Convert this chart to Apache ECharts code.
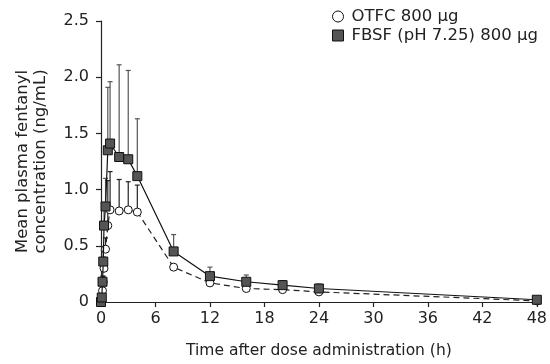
<!DOCTYPE html>
<html>
<head>
<meta charset="utf-8">
<script src="https://cdn.jsdelivr.net/npm/echarts@6/dist/echarts.min.js"></script>
<style>
  html, body { margin: 0; padding: 0; background: #fff; }
  #chart { width: 550px; height: 364px; }
</style>
</head>
<body>
<div id="chart"></div>
<script>
// sampling times (h)
const times = [0, 0.083, 0.167, 0.25, 0.333, 0.5, 0.75, 1, 2, 3, 4, 8, 12, 16, 20, 24, 48];

// OTFC 800 µg: mean and SD (ng/mL)
const otfcMean = [0, 0.02, 0.10, 0.18, 0.30, 0.47, 0.68, 0.82, 0.81, 0.82, 0.80, 0.31, 0.17, 0.12, 0.11, 0.09, 0.01];
const otfcSd   = [0, 0.01, 0.03, 0.05, 0.08, 0.10, 0.40, 0.34, 0.28, 0.25, 0.24, 0.00, 0.03, 0.02, 0.02, 0.02, 0.00];

// FBSF (pH 7.25) 800 µg: mean and SD (ng/mL)
const fbsfMean = [0, 0.04, 0.18, 0.36, 0.68, 0.85, 1.35, 1.41, 1.29, 1.27, 1.12, 0.45, 0.23, 0.18, 0.15, 0.12, 0.02];
const fbsfSd   = [0, 0.02, 0.05, 0.10, 0.20, 0.25, 0.56, 0.55, 0.82, 0.79, 0.51, 0.15, 0.08, 0.06, 0.04, 0.04, 0.00];

const xTicks = [0, 6, 12, 18, 24, 30, 36, 42, 48];
const yTicks = [0, 0.5, 1.0, 1.5, 2.0, 2.5];

const font = 'DejaVu Sans, Liberation Sans, sans-serif';

const chart = echarts.init(document.getElementById('chart'));

// 误差线 (upper whisker with a cap)
function errorBar(color) {
  return function (params, api) {
    const x = api.value(0);
    const m = api.value(1);
    const sd = api.value(2);
    if (!sd) return null;
    const p0 = api.coord([x, m]);
    const p1 = api.coord([x, m + sd]);
    return {
      type: 'group',
      children: [
        { type: 'line', shape: { x1: p0[0], y1: p0[1], x2: p1[0], y2: p1[1] }, style: { stroke: color, lineWidth: 1.2 } },
        { type: 'line', shape: { x1: p1[0] - 2.5, y1: p1[1], x2: p1[0] + 2.5, y2: p1[1] }, style: { stroke: color, lineWidth: 1.2 } }
      ]
    };
  };
}

const otfcData = times.map((t, i) => [t, otfcMean[i]]);
const fbsfData = times.map((t, i) => [t, fbsfMean[i]]);
const otfcErr = times.map((t, i) => [t, otfcMean[i], otfcSd[i]]);
const fbsfErr = times.map((t, i) => [t, fbsfMean[i], fbsfSd[i]]);

chart.setOption({
  animation: false,
  backgroundColor: '#fff',
  textStyle: { fontFamily: font },
  legend: {
    orient: 'vertical',
    left: 327,
    top: 3,
    itemGap: 2,
    itemWidth: 11,
    itemHeight: 11,
    textStyle: { fontSize: 16.5, color: '#222', fontFamily: font, padding: [0, 0, 0, 3] },
    data: [
      { name: 'OTFC 800 µg', icon: 'circle', itemStyle: { color: '#fff', borderColor: '#111', borderWidth: 1 } },
      { name: 'FBSF (pH 7.25) 800 µg', icon: 'rect', itemStyle: { color: '#555', borderColor: '#111', borderWidth: 1 } }
    ]
  },
  grid: { left: 101, right: 12, top: 21, bottom: 59 },
  xAxis: {
    type: 'value',
    min: 0,
    max: 48,
    interval: 6,
    name: 'Time after dose administration (h)',
    nameLocation: 'middle',
    nameGap: 41,
    nameTextStyle: { fontSize: 15.5, color: '#222', fontFamily: font },
    axisLine: { onZero: false, lineStyle: { color: '#222', width: 1.2 } },
    axisTick: { length: 5, lineStyle: { color: '#222', width: 1.2 } },
    axisLabel: { fontSize: 16, color: '#222', margin: 9, fontFamily: font },
    splitLine: { show: false }
  },
  yAxis: {
    type: 'value',
    min: 0,
    max: 2.5,
    interval: 0.5,
    name: 'Mean plasma fentanyl\nconcentration (ng/mL)',
    nameLocation: 'middle',
    nameGap: 51,
    nameTextStyle: { fontSize: 16.5, color: '#222', lineHeight: 18, fontFamily: font },
    axisLine: { show: true, lineStyle: { color: '#222', width: 1.2 } },
    axisTick: { show: true, length: 5, lineStyle: { color: '#222', width: 1.2 } },
    axisLabel: {
      fontSize: 16, color: '#222', margin: 12, fontFamily: font,
      formatter: v => (v === 0 ? '0' : v.toFixed(1))
    },
    splitLine: { show: false }
  },
  series: [
    {
      name: 'FBSF err',
      type: 'custom',
      renderItem: errorBar('#555'),
      data: fbsfErr,
      z: 1,
      silent: true
    },
    {
      name: 'OTFC err',
      type: 'custom',
      renderItem: errorBar('#222'),
      data: otfcErr,
      z: 1,
      silent: true
    },
    {
      name: 'OTFC 800 µg',
      type: 'line',
      data: otfcData,
      symbol: 'circle',
      symbolSize: 8,
      showAllSymbol: true,
      lineStyle: { color: '#222', width: 1.2, type: [6, 4] },
      itemStyle: { color: '#fff', borderColor: '#111', borderWidth: 1 },
      z: 3
    },
    {
      name: 'FBSF (pH 7.25) 800 µg',
      type: 'line',
      data: fbsfData,
      symbol: 'rect',
      symbolSize: 9,
      showAllSymbol: true,
      lineStyle: { color: '#111', width: 1.2 },
      itemStyle: { color: '#555', borderColor: '#111', borderWidth: 1 },
      z: 4
    }
  ]
});
</script>
</body>
</html>
